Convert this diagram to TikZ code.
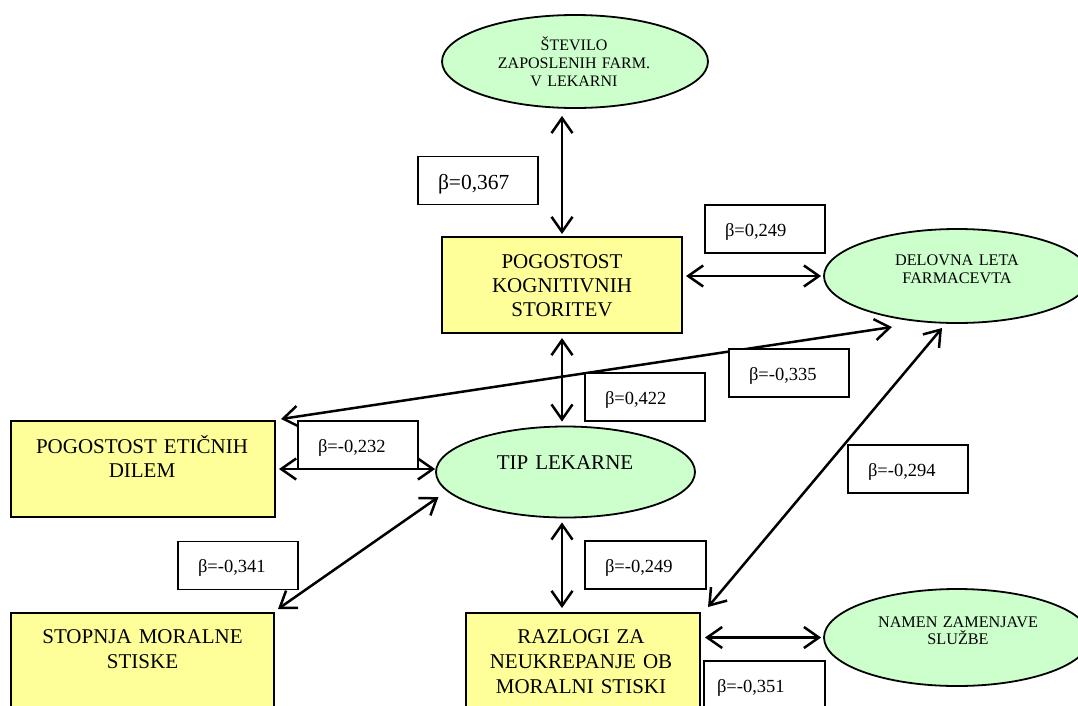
\documentclass[tikz,border=0pt]{standalone}
\usepackage{fontspec}
\setmainfont{Liberation Serif}
\usetikzlibrary{arrows.meta,shapes.geometric,calc}

\definecolor{boxyellow}{HTML}{FFFF99}
\definecolor{ovalgreen}{HTML}{CCFFCC}

\tikzset{
  factor/.style={draw=black, line width=2pt, fill=boxyellow, inner sep=0pt},
  oval/.style={ellipse, draw=black, line width=1.8pt, fill=ovalgreen, inner sep=0pt},
  coef/.style={draw=black, line width=1.6pt, fill=white, minimum height=48pt,
    text width=80pt, inner xsep=20pt, inner ysep=0pt, align=left,
    text height=17pt, text depth=3pt, font=\fontsize{18.5}{20}\selectfont},
  lbl/.style={text width=300pt, align=center, inner sep=0pt, anchor=base},
  bigtxt/.style={lbl, font=\fontsize{21}{24}\selectfont},
  smalltxt/.style={lbl, font=\fontsize{16}{18}\selectfont},
  link/.style={{Straight Barb[length=15pt,width=21pt]}-{Straight Barb[length=15pt,width=21pt]},
    line width=2.5pt},
}

\begin{document}
\begin{tikzpicture}[x=1pt,y=-1pt]
\path[use as bounding box] (0,0) rectangle (1078,705);
\clip (0,0) rectangle (1078,705);
\fill[white] (0,0) rectangle (1078,705);

% variables (ellipses)
\node[oval, minimum width=266pt, minimum height=93pt] (stev) at (575,61.5) {};
\node[smalltxt] (stevt) at (574,50) {ŠTEVILO\\ZAPOSLENIH FARM.\\V LEKARNI};

\node[oval, minimum width=266pt, minimum height=94pt] (delo) at (957,276) {};
\node[smalltxt, font=\fontsize{16.2}{18}\selectfont] (delot) at (957,265) {DELOVNA LETA\\FARMACEVTA};

\node[oval, minimum width=259pt, minimum height=91pt] (tip) at (565.5,472) {};
\node[bigtxt] (tipt) at (565,469) {TIP LEKARNE};

\node[oval, minimum width=266pt, minimum height=97pt] (name) at (957,637.5) {};
\node[smalltxt, font=\fontsize{16.2}{17}\selectfont] (namet) at (958,627) {NAMEN ZAMENJAVE\\SLUŽBE};

% factors (boxes)
\node[factor, minimum width=240pt, minimum height=96pt] (kog) at (562,285) {};
\node[bigtxt] (kogt) at (562,268) {POGOSTOST\\KOGNITIVNIH\\STORITEV};

\node[factor, minimum width=264pt, minimum height=96pt] (etic) at (143,469) {};
\node[bigtxt] (etict) at (142,453) {POGOSTOST ETIČNIH\\DILEM};

\node[factor, minimum width=263pt, minimum height=110pt] (stop) at (142.5,668) {};
\node[bigtxt, font=\fontsize{21}{25}\selectfont] (stopt) at (142.5,643) {STOPNJA MORALNE\\STISKE};

\node[factor, minimum width=234pt, minimum height=110pt] (razl) at (583,668) {};
\node[bigtxt, font=\fontsize{21}{25}\selectfont] (razlt) at (581,643) {RAZLOGI ZA\\NEUKREPANJE OB\\MORALNI STISKI};

% connectors
\draw[link, shorten <=2pt, shorten >=7pt] (kog.north) -- (kog.north |- stev.south);
\draw[link, shorten <=3pt, shorten >=2pt] (kog.east |- delo.west) -- (delo.west);
\draw[link, shorten <=4pt, shorten >=4pt] (kog.south) -- (kog.south |- tip.north);
\draw[link] ($(etic.north east)+(5,-1)$) -- ($(delo.center)+(-65,51)$);
\draw[link] ($(razl.north east)+(7,-5)$) -- ($(delo.center)+(-15,52)$);
\draw[link, shorten <=3pt] (etic.east) -- (etic.east -| tip.west);
\draw[link] ($(stop.north east)+(3,-3)$) -- ($(tip.center)+(-127,25)$);
\draw[link, shorten <=4pt, shorten >=4pt] (kog.south |- tip.south) -- (kog.south |- razl.north);
\draw[link, shorten <=4pt, shorten >=2pt] (razl.east |- name.west) -- (name.west);

% path coefficients
\node[coef, text height=19.5pt, text depth=2.5pt, font=\fontsize{21.5}{23}\selectfont] (b1) at (478,180.5) {β=0,367};
\node[coef] (b2) at (765,229) {β=0,249};
\node[coef] (b3) at (645,397) {β=0,422};
\node[coef] (b4) at (789,373) {β=-0,335};
\node[coef] (b5) at (358,445) {β=-0,232};
\node[coef] (b6) at (908,469) {β=-0,294};
\node[coef] (b7) at (238,565.5) {β=-0,341};
\node[coef, text width=81pt] (b8) at (645.5,565) {β=-0,249};
\node[coef, inner xsep=13pt, text width=95pt] (b9) at (764.5,685) {β=-0,351};
\end{tikzpicture}
\end{document}
